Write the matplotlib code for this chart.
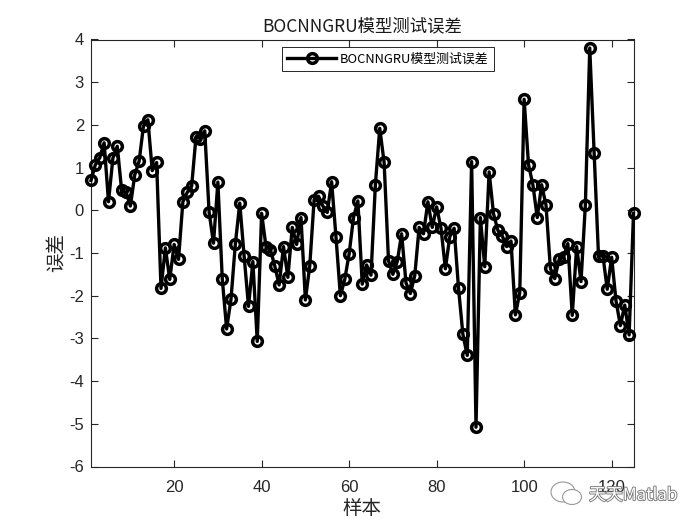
import matplotlib
matplotlib.use('Agg')
import matplotlib.pyplot as plt
import matplotlib.patheffects as pe
from matplotlib.patches import Ellipse
import numpy as np

err = [0.7, 1.07, 1.23, 1.58, 0.2, 1.22, 1.5, 0.47, 0.42, 0.1,
       0.83, 1.15, 1.98, 2.12, 0.93, 1.12, -1.83, -0.88, -1.62, -0.8,
       -1.15, 0.2, 0.42, 0.56, 1.72, 1.68, 1.86, -0.05, -0.77, 0.66,
       -1.6, -2.78, -2.08, -0.78, 0.17, -1.07, -2.25, -1.2, -3.07, -0.07,
       -0.85, -0.92, -1.3, -1.75, -0.85, -1.57, -0.4, -0.8, -0.17, -2.1,
       -1.3, 0.25, 0.33, 0.1, -0.05, 0.67, -0.63, -2.0, -1.62, -1.02,
       -0.17, 0.22, -1.73, -1.28, -1.52, 0.6, 1.92, 1.12, -1.18, -1.5,
       -1.2, -0.55, -1.7, -1.95, -1.53, -0.4, -0.55, 0.2, -0.4, 0.08,
       -0.42, -1.37, -0.62, -0.42, -1.82, -2.9, -3.4, 1.14, -5.08, -0.17,
       -1.32, 0.9, -0.08, -0.47, -0.6, -0.85, -0.72, -2.45, -1.93, 2.6,
       1.07, 0.6, -0.17, 0.6, 0.12, -1.36, -1.6, -1.15, -1.1, -0.78,
       -2.46, -0.85, -1.67, 0.13, 3.8, 1.35, -1.07, -1.06, -1.85, -1.1,
       -2.12, -2.7, -2.22, -2.92, -0.07]
xticks = [20, 40, 60, 80, 100, 120]
yticks = [-6, -5, -4, -3, -2, -1, 0, 1, 2, 3, 4]

cjk = ['Noto Sans CJK SC', 'DejaVu Sans']
plt.rcParams['font.family'] = ['Liberation Sans', 'Noto Sans CJK SC']
plt.rcParams['axes.unicode_minus'] = False

x = np.arange(1, len(err) + 1)

fig = plt.figure(figsize=(7, 5.25), dpi=100)
ax = fig.add_axes([91 / 700, 1 - 466.5 / 525, 542.5 / 700, 427 / 525])
ax.plot(x, err, color='black', lw=2.4, marker='o', ms=7, mew=2.5,
        mfc='none', label='BOCNNGRU模型测试误差', clip_on=False, zorder=5)
ax.set_xlim(1, 125)
ax.set_ylim(-6, 4)
ax.set_xticks(xticks)
ax.set_yticks(yticks)
ax.tick_params(direction='in', top=True, right=True, length=5, width=0.8,
               labelsize=12, colors='#262626', pad=5)
ax.tick_params(axis='x', pad=10)
for s in ax.spines.values():
    s.set_linewidth(0.8)
    s.set_color('#262626')

ax.set_title('BOCNNGRU模型测试误差', fontsize=12.5, family=cjk, color='#1a1a1a', pad=6)
ax.set_xlabel('样本', fontsize=14, family=cjk, color='#262626', labelpad=2)
ax.set_ylabel('误差', fontsize=14, family=cjk, color='#262626', labelpad=1)

leg = ax.legend(loc='upper left', bbox_to_anchor=(0.352, 0.982), fancybox=False, framealpha=1,
                edgecolor='#262626', prop={'family': cjk, 'size': 9.3},
                handlelength=3.8, borderpad=0.4, handletextpad=0.3, borderaxespad=0)
leg.get_frame().set_linewidth(0.7)
leg.set_zorder(6)

# watermark
for cx, cy, w, h in [(563, 492, 24, 20), (572, 497, 19, 15)]:
    fig.add_artist(Ellipse((cx / 700, 1 - cy / 525), w / 700, h / 525, fc='white',
                           ec='#999999', lw=0.8, transform=fig.transFigure))
fig.text(589 / 700, 1 - 495 / 525, '天天Matlab', fontsize=12.2, family=cjk, color='white',
         va='center', path_effects=[pe.withStroke(linewidth=1.3, foreground='#777777')])

fig.savefig('out.png', dpi=100)
